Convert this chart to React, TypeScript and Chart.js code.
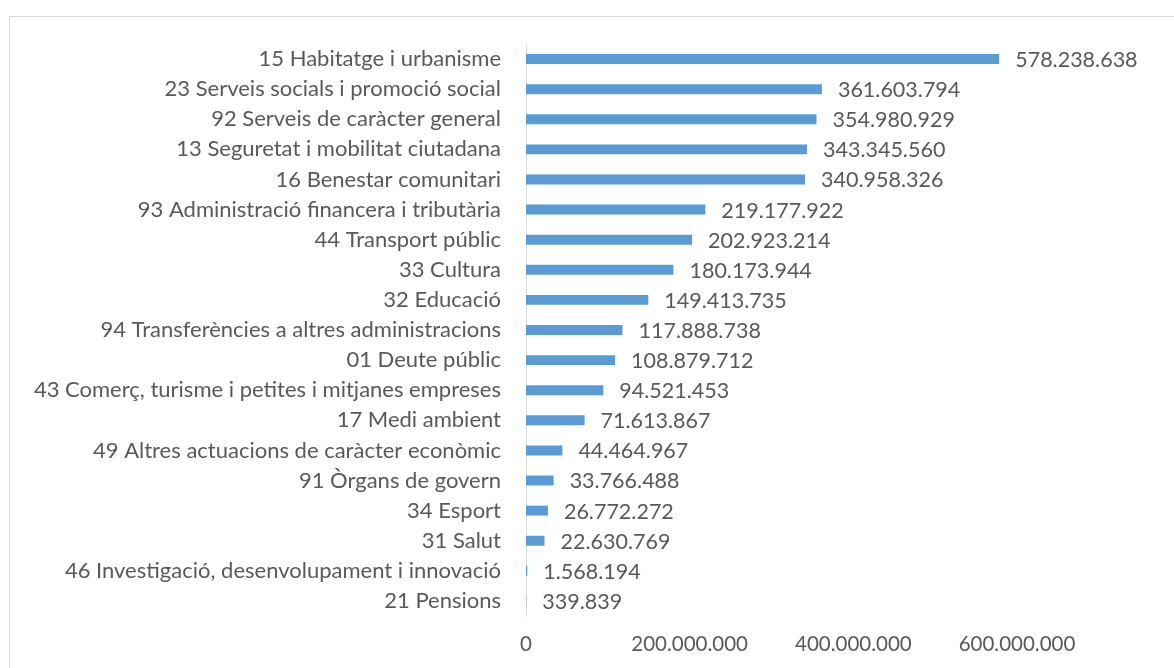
import React, { useEffect, useRef } from "react";
import { Chart, registerables } from "chart.js";

Chart.register(...registerables);

const categories: string[] = [
  "15 Habitatge i urbanisme",
  "23 Serveis socials i promoció social",
  "92 Serveis de caràcter general",
  "13 Seguretat i mobilitat ciutadana",
  "16 Benestar comunitari",
  "93 Administració financera i tributària",
  "44 Transport públic",
  "33 Cultura",
  "32 Educació",
  "94 Transferències a altres administracions",
  "01 Deute públic",
  "43 Comerç, turisme i petites i mitjanes empreses",
  "17 Medi ambient",
  "49 Altres actuacions de caràcter econòmic",
  "91 Òrgans de govern",
  "34 Esport",
  "31 Salut",
  "46 Investigació, desenvolupament i innovació",
  "21 Pensions",
];

const values: number[] = [
  578238638, 361603794, 354980929, 343345560, 340958326, 219177922, 202923214,
  180173944, 149413735, 117888738, 108879712, 94521453, 71613867, 44464967,
  33766488, 26772272, 22630769, 1568194, 339839,
];

const xTicks: number[] = [0, 200000000, 400000000, 600000000];

const FONT = "Lato, 'Open Sans', sans-serif";
const TEXT = "#595959";

function fmt(v: number): string {
  return Math.round(v)
    .toString()
    .replace(/\B(?=(\d{3})+(?!\d))/g, ".");
}

const dataLabels = {
  id: "dataLabels",
  afterDatasetsDraw(chart: any) {
    const ctx = chart.ctx;
    const meta = chart.getDatasetMeta(0);
    ctx.save();
    ctx.font = `21.5px ${FONT}`;
    ctx.fillStyle = TEXT;
    ctx.textAlign = "left";
    ctx.textBaseline = "middle";
    meta.data.forEach((bar: any, i: number) => {
      const v = chart.data.datasets[0].data[i] as number;
      ctx.fillText(fmt(v), bar.x + 16, bar.y + 1);
    });
    ctx.restore();
  },
};

export default function App() {
  const ref = useRef<HTMLCanvasElement | null>(null);

  useEffect(() => {
    if (!ref.current) return;
    const chart = new Chart(ref.current, {
      type: "bar",
      data: {
        labels: categories,
        datasets: [
          {
            data: values,
            backgroundColor: "#5B9BD5",
            borderWidth: 0,
            categoryPercentage: 1,
            barPercentage: 0.33,
          },
        ],
      },
      options: {
        indexAxis: "y",
        animation: false,
        responsive: false,
        events: [],
        layout: { padding: { top: 44, right: 157, bottom: 0, left: 0 } },
        plugins: {
          legend: { display: false },
          tooltip: { enabled: false },
        },
        scales: {
          y: {
            grid: { display: false, drawTicks: false },
            border: { display: true, color: "#d9d9d9", width: 1 },
            ticks: {
              color: TEXT,
              font: { family: FONT, size: 22 },
              padding: 25,
              autoSkip: false,
            },
            afterFit: (scale: any) => {
              scale.width = 526;
            },
          },
          x: {
            min: 0,
            max: 600000000,
            grid: { display: false, drawTicks: false },
            border: { display: false },
            afterBuildTicks: (scale: any) => {
              scale.ticks = xTicks.map((v) => ({ value: v }));
            },
            ticks: {
              color: TEXT,
              font: { family: FONT, size: 20.5 },
              padding: 16,
              callback: (v: any) => fmt(Number(v)),
            },
            afterFit: (scale: any) => {
              scale.height = 52;
            },
          },
        },
      },
      plugins: [dataLabels],
    });
    return () => chart.destroy();
  }, []);

  return (
    <div>
      <div
        style={{
          position: "fixed",
          left: 9,
          top: 16,
          width: 1300,
          height: 800,
          border: "1px solid #d9d9d9",
          background: "#fff",
        }}
      />
      <canvas
        ref={ref}
        width={1174}
        height={668}
        style={{ position: "fixed", left: 0, top: 0, width: 1174, height: 668 }}
      />
    </div>
  );
}
